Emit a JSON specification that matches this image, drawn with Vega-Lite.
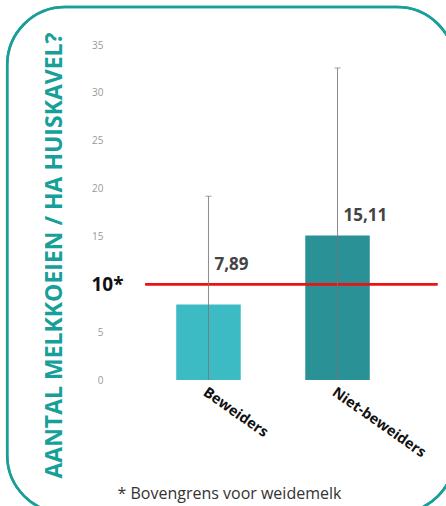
{
  "$schema": "https://vega.github.io/schema/vega-lite/v6.json",
  "width": 320,
  "height": 335,
  "autosize": {"type": "none"},
  "padding": {"left": 113, "top": 45, "right": 13, "bottom": 126},
  "background": "white",
  "config": {"view": {"stroke": null}, "font": "Open Sans"},
  "data": {"values": [
    {"groep": "Beweiders", "gemiddelde": 7.89, "label": "7,89", "boven": 19.2},
    {"groep": "Niet-beweiders", "gemiddelde": 15.11, "label": "15,11", "boven": 32.6}
  ]},
  "layer": [
    {
      "mark": {"type": "rect", "fill": "transparent", "stroke": "#1A9E98", "strokeWidth": 2.5, "cornerRadius": 58, "clip": false},
      "encoding": {
        "x": {"datum": "Beweiders", "type": "nominal", "bandPosition": -2.62},
        "x2": {"datum": "Niet-beweiders", "bandPosition": 2.32},
        "y": {"datum": 38.97, "type": "quantitative"},
        "y2": {"datum": -13.9}
      }
    },
    {
      "mark": {"type": "bar"},
      "encoding": {
        "x": {
          "field": "groep", "type": "nominal", "sort": null,
          "scale": {"paddingInner": 0.5, "paddingOuter": 0.49},
          "axis": {
            "title": "* Bovengrens voor weidemelk",
            "titleFont": "Open Sans", "titleFontSize": 16, "titleFontWeight": "normal", "titleColor": "#333333",
            "titleAnchor": "start", "titleAlign": "left", "titleBaseline": "middle", "titleX": 4, "titleY": 113,
            "labelAngle": 35, "labelAlign": "left", "labelBaseline": "top", "labelFontWeight": "bold",
            "labelFontSize": 14.5, "labelColor": "#111111", "labelPadding": 5,
            "ticks": false, "tickSize": 0, "domain": false, "grid": false
          }
        },
        "y": {
          "field": "gemiddelde", "type": "quantitative",
          "scale": {"domain": [0, 35], "nice": false},
          "axis": {
            "values": [0, 5, 10, 15, 20, 25, 30, 35],
            "title": "AANTAL MELKKOEIEN / HA HUISKAVEL?",
            "titleColor": "#17A09A", "titleFontSize": 23, "titleFontWeight": "bold", "titleFont": "Open Sans",
            "titleAngle": -90, "titleX": -59, "titleY": 210, "titleAlign": "center", "titleBaseline": "middle",
            "labelExpr": "datum.value == 10 ? '10*' : datum.label",
            "labelColor": {"condition": {"test": "datum.value == 10", "value": "#111111"}, "value": "#999999"},
            "labelFontSize": {"condition": {"test": "datum.value == 10", "value": 19}, "value": 10},
            "labelFontWeight": {"condition": {"test": "datum.value == 10", "value": "bold"}, "value": "normal"},
            "labelPadding": {"condition": {"test": "datum.value == 10", "value": -10}, "value": 10},
            "ticks": false, "tickSize": 0, "domain": false,
            "gridColor": "#EBEBEB",
            "gridOpacity": {"condition": {"test": "datum.value == 10", "value": 0}, "value": 1}
          }
        },
        "color": {"field": "groep", "type": "nominal", "scale": {"domain": ["Beweiders", "Niet-beweiders"], "range": ["#3DBBC4", "#2A9297"]}, "legend": null}
      }
    },
    {
      "mark": {"type": "rule", "color": "#EE1111", "strokeWidth": 2.5},
      "encoding": {
        "x": {"datum": "Beweiders", "type": "nominal", "bandPosition": -0.48},
        "x2": {"datum": "Niet-beweiders", "bandPosition": 2.05},
        "y": {"datum": 10, "type": "quantitative"}
      }
    },
    {
      "mark": {"type": "rule", "color": "#777777", "strokeWidth": 1, "opacity": 0.85},
      "encoding": {
        "x": {"field": "groep", "type": "nominal", "sort": null},
        "y": {"field": "boven", "type": "quantitative"},
        "y2": {"datum": 0}
      }
    },
    {
      "mark": {"type": "tick", "color": "#777777", "thickness": 1, "size": 6},
      "encoding": {
        "x": {"field": "groep", "type": "nominal", "sort": null},
        "y": {"field": "boven", "type": "quantitative"}
      }
    },
    {
      "transform": [{"filter": "datum.groep == 'Beweiders'"}],
      "mark": {"type": "text", "align": "left", "baseline": "bottom", "dx": 6, "dy": -10, "fontSize": 17, "fontWeight": "bold", "color": "#444444", "font": "Open Sans"},
      "encoding": {
        "x": {"field": "groep", "type": "nominal", "sort": null},
        "y": {"datum": 10, "type": "quantitative"},
        "text": {"field": "label"}
      }
    },
    {
      "transform": [{"filter": "datum.groep == 'Niet-beweiders'"}],
      "mark": {"type": "text", "align": "left", "baseline": "bottom", "dx": 6, "dy": -10, "fontSize": 17, "fontWeight": "bold", "color": "#444444", "font": "Open Sans"},
      "encoding": {
        "x": {"field": "groep", "type": "nominal", "sort": null},
        "y": {"field": "gemiddelde", "type": "quantitative"},
        "text": {"field": "label"}
      }
    }
  ]
}
